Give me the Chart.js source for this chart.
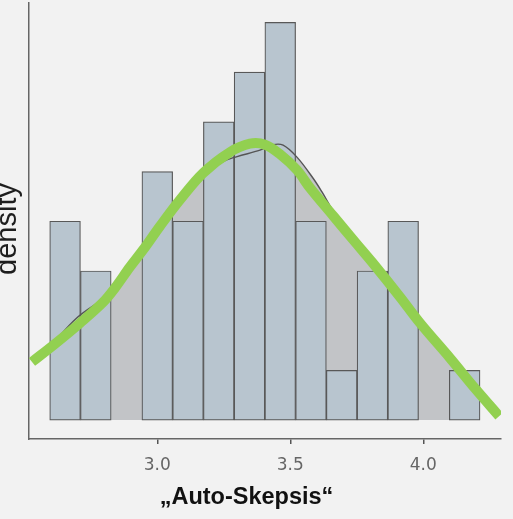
<!DOCTYPE html>
<html lang="de">
<head>
  <meta charset="UTF-8">
  <title>Auto-Skepsis – Histogramm</title>
  <script src="https://cdn.jsdelivr.net/npm/chart.js"></script>
  <style>
    html, body {
      margin: 0;
      padding: 0;
      background-color: #f2f2f2;
    }
    #wrap {
      width: 513px;
      height: 519px;
    }
  </style>
</head>
<body>
  <div id="wrap">
    <canvas id="histChart" width="513" height="519"></canvas>
  </div>

  <script>
    // Histogramm: Klassenmitten und Häufigkeiten
    const binCenters = [2.6533, 2.7688, 2.8844, 2.9999, 3.1155, 3.2310, 3.3466, 3.4621, 3.5777, 3.6932, 3.8088, 3.9243, 4.0399, 4.1554];
    const counts = [4, 3, 0, 5, 4, 6, 7, 8, 4, 1, 3, 4, 0, 1];

    // Dichteschätzung (grau)
    const kdeX = [2.596, 2.698, 2.826, 2.942, 3.059, 3.172, 3.247, 3.300, 3.386, 3.435, 3.473, 3.525, 3.585, 3.619, 3.668, 3.751, 3.849, 3.912, 3.988, 4.100, 4.213];
    const kdeY = [1.47, 2.06, 2.57, 3.32, 4.35, 4.90, 5.20, 5.30, 5.43, 5.54, 5.53, 5.29, 4.87, 4.59, 4.15, 3.56, 2.90, 2.48, 1.95, 1.25, 0.56];

    // grüne Kurve
    const greenX = [2.529, 2.619, 2.709, 2.796, 2.841, 2.897, 2.946, 3.010, 3.085, 3.172, 3.273, 3.348, 3.405, 3.461, 3.525, 3.574, 3.661, 3.747, 3.807, 3.912, 3.988, 4.100, 4.194, 4.285];
    const greenY = [1.17, 1.55, 1.95, 2.37, 2.66, 3.08, 3.42, 3.90, 4.43, 4.97, 5.39, 5.56, 5.54, 5.35, 5.03, 4.67, 4.11, 3.56, 3.18, 2.48, 1.95, 1.25, 0.64, 0.08];

    const tickValues = [3.0, 3.5, 4.0];
    const xTitle = '„Auto-Skepsis“';
    const yTitle = 'density';

    const toPoints = (xs, ys) => xs.map((x, i) => ({ x: x, y: ys[i] }));

    const axisTitles = {
      id: 'axisTitles',
      afterDraw(chart) {
        const ctx = chart.ctx;
        ctx.save();
        ctx.fillStyle = '#1e1e1e';
        ctx.textAlign = 'center';
        ctx.textBaseline = 'alphabetic';
        ctx.font = '29px "Liberation Sans", Arial, sans-serif';
        ctx.translate(16, 229);
        ctx.rotate(-Math.PI / 2);
        ctx.fillText(yTitle, 0, 0);
        ctx.restore();

        ctx.save();
        ctx.fillStyle = '#111';
        ctx.textAlign = 'center';
        ctx.textBaseline = 'alphabetic';
        ctx.font = 'bold 23.5px "Liberation Sans", Arial, sans-serif';
        ctx.fillText(xTitle, 246.5, 504);
        ctx.restore();
      }
    };

    new Chart(document.getElementById('histChart'), {
      type: 'bar',
      data: {
        datasets: [
          {
            type: 'line',
            data: toPoints(greenX, greenY),
            borderColor: '#92d050',
            borderWidth: 10,
            borderCapStyle: 'butt',
            pointRadius: 0,
            tension: 0.35,
            fill: false,
            order: 0
          },
          {
            type: 'line',
            data: toPoints(kdeX, kdeY),
            borderColor: '#555555',
            borderWidth: 1.4,
            pointRadius: 0,
            tension: 0.35,
            fill: false,
            order: 1
          },
          {
            type: 'bar',
            data: toPoints(binCenters, counts),
            backgroundColor: '#b8c5cf',
            borderColor: '#585858',
            borderWidth: 1.2,
            borderSkipped: false,
            barPercentage: 1,
            categoryPercentage: 1,
            order: 2
          },
          {
            type: 'line',
            data: toPoints(kdeX, kdeY),
            borderWidth: 0,
            backgroundColor: '#c2c4c7',
            pointRadius: 0,
            tension: 0.35,
            fill: 'origin',
            order: 3
          }
        ]
      },
      options: {
        responsive: false,
        animation: false,
        layout: {
          padding: { top: 3, right: 12, left: 0, bottom: 0 }
        },
        plugins: {
          legend: { display: false },
          tooltip: { enabled: false }
        },
        scales: {
          x: {
            type: 'linear',
            min: 2.5177,
            max: 4.292,
            offset: false,
            afterFit: (scale) => { scale.height = 80; },
            afterBuildTicks: (scale) => {
              scale.ticks = tickValues.map(v => ({ value: v }));
            },
            grid: {
              offset: false,
              drawOnChartArea: false,
              drawTicks: true,
              tickLength: 5,
              color: '#555',
              lineWidth: 1.5
            },
            border: { display: true, color: '#666', width: 1.5 },
            ticks: {
              padding: 11,
              color: '#666',
              font: { family: 'DejaVu Sans', size: 17 },
              callback: (v) => Number(v).toFixed(1)
            }
          },
          y: {
            min: -0.38,
            max: 8.39,
            afterFit: (scale) => { scale.width = 29; },
            grid: { display: false },
            border: { display: true, color: '#666', width: 1.5 },
            ticks: { display: false }
          }
        }
      },
      plugins: [axisTitles]
    });
  </script>
</body>
</html>
